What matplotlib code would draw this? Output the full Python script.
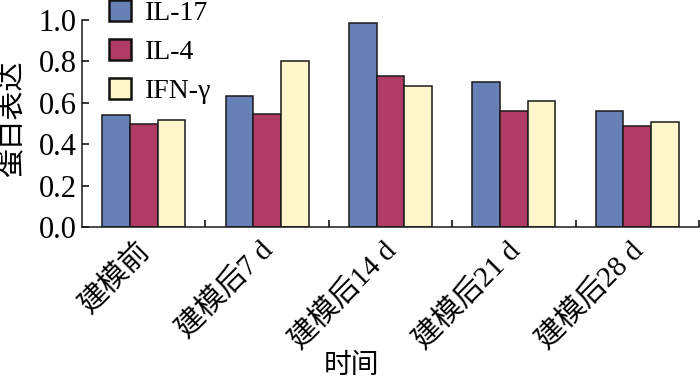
import matplotlib
matplotlib.use("Agg")
import matplotlib.pyplot as plt
import matplotlib.transforms as mtransforms
import numpy as np

categories = ["建模前", "建模后7 d", "建模后14 d", "建模后21 d", "建模后28 d"]
series_names = ["IL-17", "IL-4", "IFN-γ"]
il17 = [0.54, 0.631, 0.984, 0.702, 0.562]
il4 = [0.50, 0.547, 0.729, 0.562, 0.486]
ifng = [0.515, 0.802, 0.683, 0.610, 0.507]
yticks = [0.0, 0.2, 0.4, 0.6, 0.8, 1.0]
ylabel = "蛋白表达"
xlabel = "时间"

colors = ["#6781B8", "#B03C66", "#FCF6CA"]
fam = ["Liberation Serif", "Noto Sans CJK SC"]
plt.rcParams["font.family"] = fam

fig = plt.figure(figsize=(7, 3.79), dpi=100)
ax = fig.add_axes([82 / 700, 1 - 227 / 379, (699 - 82) / 700, (227 - 20) / 379])

x = np.arange(len(categories))
w = 0.224
for i, (vals, name) in enumerate(zip([il17, il4, ifng], series_names)):
    ax.bar(x + (i - 1) * w, vals, width=w, color=colors[i], edgecolor="#1a1a1a",
           linewidth=1.1, label=name, zorder=2)

ax.set_xlim(-0.5, len(categories) - 0.5)
ax.set_ylim(0, 1.0)
ax.set_yticks(yticks)
ax.set_yticklabels([f"{v:.1f}" for v in yticks], fontsize=22, family="Liberation Serif")
ax.tick_params(axis="y", direction="in", length=5, width=1.1, pad=4)

ax.set_xticks(x)
ax.set_xticklabels(categories, rotation=45, ha="right", va="top", fontsize=21)
ax.tick_params(axis="x", which="major", length=0, pad=7)
ax.set_xticks(np.arange(len(categories)) + 0.5, minor=True)
ax.tick_params(axis="x", which="minor", direction="in", length=5, width=1.1)
offset = mtransforms.ScaledTranslation(12 / 100, 0, fig.dpi_scale_trans)
for lab in ax.get_xticklabels():
    lab.set_transform(lab.get_transform() + offset)

for s in ["top", "right"]:
    ax.spines[s].set_visible(False)
for s in ["left", "bottom"]:
    ax.spines[s].set_linewidth(1.1)
    ax.spines[s].set_color("#1a1a1a")

fig.text(13 / 700, 1 - 118 / 379, ylabel, rotation=90, ha="center", va="center", fontsize=21)
fig.text(352 / 700, 1 - 366 / 379, xlabel, ha="center", va="center", fontsize=20)

leg = ax.legend(loc="upper left", bbox_to_anchor=(109 / 700, 1.0), bbox_transform=fig.transFigure,
                frameon=False, fontsize=20, handlelength=0.8, handleheight=0.8,
                labelspacing=0.45, handletextpad=0.5, borderaxespad=0, borderpad=0.0)
for h in leg.legend_handles:
    h.set_linewidth(1.8)
    h.set_edgecolor("#111111")

fig.savefig("out.png", dpi=100)
